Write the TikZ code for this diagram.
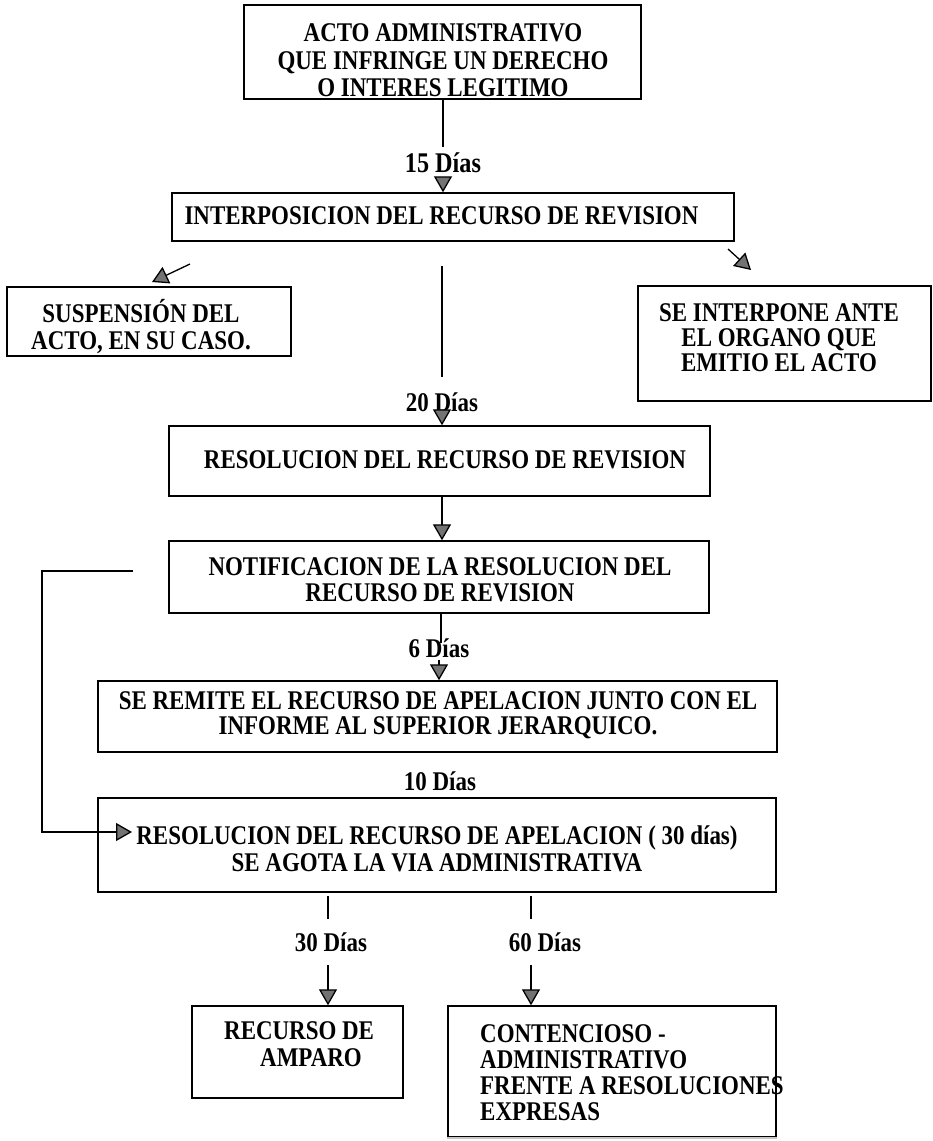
\documentclass[tikz,border=0pt]{standalone}
\usepackage{fontspec}
\setmainfont{Liberation Serif}[FakeStretch=0.85]
\usetikzlibrary{arrows.meta,calc}
\begin{document}
\begin{tikzpicture}[x=1pt,y=-1pt,
  box/.style={draw, line width=1.4pt, inner sep=0pt, rectangle},
  txt/.style={font=\bfseries\fontsize{27}{27}\selectfont, align=center, inner sep=0pt},
  lbl/.style={font=\bfseries\fontsize{27}{27}\selectfont, inner sep=0pt},
  conn/.style={line width=1.3pt},
  arr/.style={line width=1.3pt, -{Triangle[width=18pt,length=16pt,fill=black!55]}}
]
\useasboundingbox (0,0) rectangle (933,1141);

% boxes
\node[box, minimum width=397pt, minimum height=94pt] (b1) at (442.5,52) {};
\node[box, minimum width=562pt, minimum height=48pt] (b2) at (453,217) {};
\node[box, minimum width=284pt, minimum height=69pt] (bS) at (149,321.5) {};
\node[box, minimum width=293pt, minimum height=115pt] (bR) at (784.5,343.5) {};
\node[box, minimum width=541pt, minimum height=70pt] (b3) at (439.5,461) {};
\node[box, minimum width=540pt, minimum height=72pt] (b4) at (439,577) {};
\node[box, minimum width=679pt, minimum height=71pt] (b5) at (437.5,716.5) {};
\node[box, minimum width=678pt, minimum height=94pt] (b6) at (437,845) {};
\node[box, minimum width=211pt, minimum height=92pt] (bA) at (297.5,1052) {};
\node[box, minimum width=328pt, minimum height=131pt] (bC) at (612,1071.5) {};
\draw[gray!45, line width=1.6pt] (bC.south west) -- (bC.south east);

% texts
\node[txt, font=\bfseries\fontsize{27}{27.5}\selectfont] (t1) at (443,60.5) {ACTO ADMINISTRATIVO\\QUE INFRINGE UN DERECHO\\O INTERES LEGITIMO};
\node[txt] (t2) at (441.5,216) {INTERPOSICION DEL RECURSO DE REVISION};
\node[txt] (tS) at (141,327) {SUSPENSIÓN DEL\\ACTO, EN SU CASO.};
\node[txt, font=\bfseries\fontsize{27}{25}\selectfont] (tR) at (779,338) {SE INTERPONE ANTE\\EL ORGANO QUE\\EMITIO EL ACTO};
\node[txt] (t3) at (445,460) {RESOLUCION DEL RECURSO DE REVISION};
\node[txt, font=\bfseries\fontsize{27}{25.5}\selectfont] (t4) at (440,580) {NOTIFICACION DE LA RESOLUCION DEL\\RECURSO DE REVISION};
\node[txt, font=\bfseries\fontsize{27}{25.5}\selectfont] (t5) at (438,715) {SE REMITE EL RECURSO DE APELACION JUNTO CON EL\\INFORME AL SUPERIOR JERARQUICO.};
\node[txt] (t6) at (437,848.5) {RESOLUCION DEL RECURSO DE APELACION ( 30 días)\\SE AGOTA LA VIA ADMINISTRATIVA};
\node[txt, align=left, anchor=west] (tA) at (224,1044) {RECURSO DE\\\hspace*{36pt}AMPARO};
\node[txt, align=left, anchor=west, font=\bfseries\fontsize{27}{26}\selectfont] (tC) at (480,1073) {CONTENCIOSO -\\ADMINISTRATIVO\\FRENTE A RESOLUCIONES\\EXPRESAS};

% labels
\node[lbl, font=\bfseries\fontsize{28.5}{27}\selectfont, minimum height=32pt] (l15) at (443,163) {15 Días};
\node[lbl] (l20) at (442,402) {20 Días};
\node[lbl, minimum height=22pt] (l6) at (439,648) {6 Días};
\node[lbl] (l10) at (440,781) {10 Días};
\node[lbl] (l30) at (331,942) {30 Días};
\node[lbl] (l60) at (545,942) {60 Días};

% connectors
\draw[conn] (b1.south -| l15) -- (l15.north);
\draw[arr] (l15.south) -- (l15.south |- b2.north);

\coordinate (dl) at (190,264);
\coordinate (dlt) at (152,282);
\draw[arr] (dl) -- (dlt);
\coordinate (dr) at (728,249);
\coordinate (drt) at (751,270);
\draw[arr] (dr) -- (drt);

\coordinate (v20a) at (442,266);
\coordinate (v20b) at (442,377);
\draw[conn] (v20a) -- (v20b);
\draw[arr] ($(l20.south)+(0,1)$) -- (l20.south |- b3.north);

\draw[arr] (b3.south -| l20) -- (b4.north -| l20);

\coordinate (v6) at (441,613);
\draw[conn] (v6) -- ($(v6)+(0,30)$);
\draw[arr] ($(l6.south)+(0,1)$) -- (l6.south |- b5.north);

\coordinate (k1) at (133,571);
\coordinate (k2) at (132,832);
\draw[arr] (k1) -- (42,571) |- (k2);

\coordinate (a30) at (328,896);
\coordinate (b30) at (328,919);
\coordinate (c30) at (328,965);
\draw[conn] (a30) -- (b30);
\draw[arr] (c30) -- (c30 |- bA.north);

\coordinate (a60) at (531,896);
\coordinate (b60) at (531,919);
\coordinate (c60) at (531,965);
\draw[conn] (a60) -- (b60);
\draw[arr] (c60) -- (c60 |- bC.north);
\end{tikzpicture}
\end{document}
